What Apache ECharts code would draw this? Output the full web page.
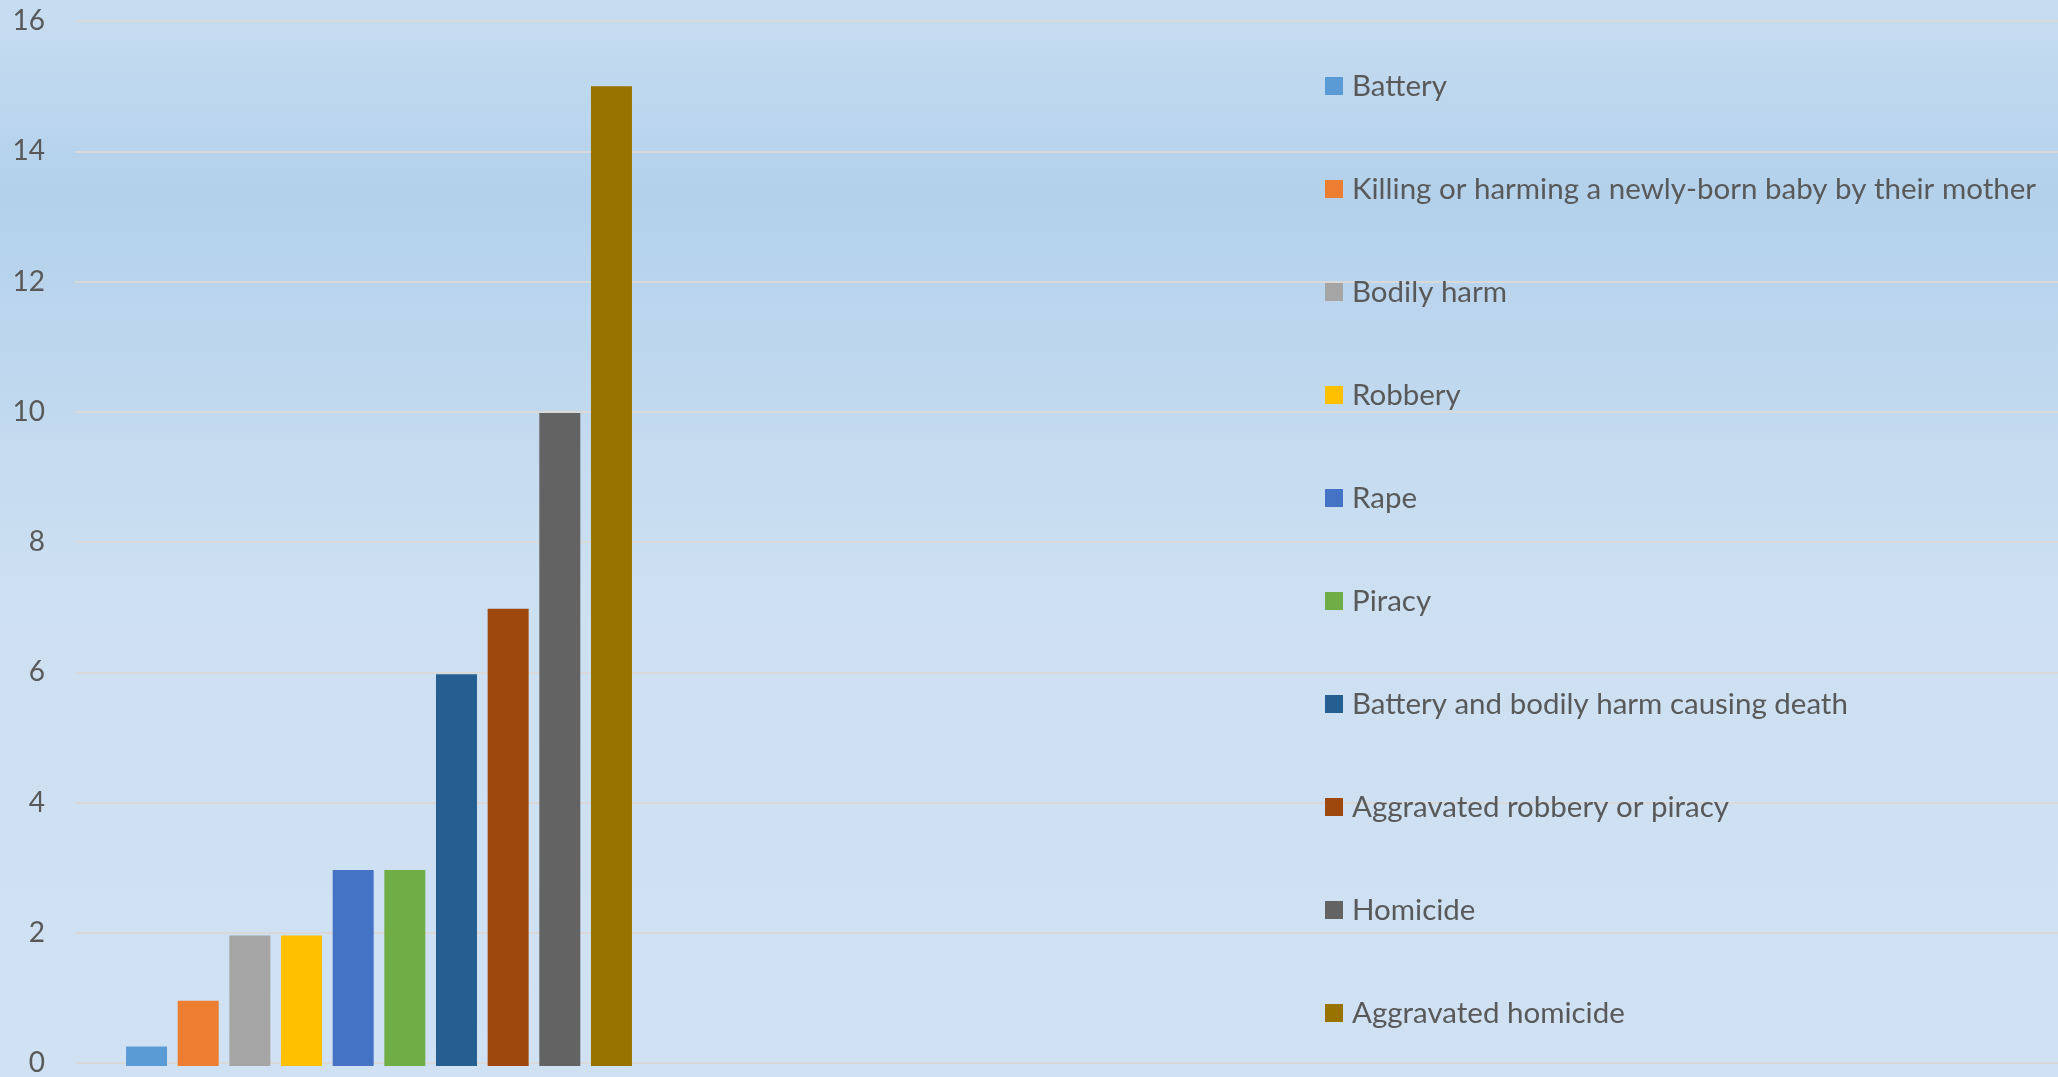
<!DOCTYPE html>
<html>
<head>
<meta charset="utf-8">
<title>Offences</title>
<script src="https://cdn.jsdelivr.net/npm/echarts@6/dist/echarts.min.js"></script>
<style>
  html, body { margin: 0; padding: 0; }
  #chart { width: 2058px; height: 1077px; }
</style>
</head>
<body>
<div id="chart"></div>
<script>
// Offence names (one series each) and their values
const offences = [
  'Battery',
  'Killing or harming a newly-born baby by their mother',
  'Bodily harm',
  'Robbery',
  'Rape',
  'Piracy',
  'Battery and bodily harm causing death',
  'Aggravated robbery or piracy',
  'Homicide',
  'Aggravated homicide'
];
const values = [0.3, 1, 2, 2, 3, 3, 6, 7, 10, 15];
const colors = ['#5b9bd5', '#ed7d31', '#a5a5a5', '#ffc000', '#4472c4',
                '#70ad47', '#255e91', '#9e480e', '#636363', '#997300'];
const yTicks = [0, 2, 4, 6, 8, 10, 12, 14, 16];

const FONT = 'Lato';
const TEXT = '#595959';
const TOP = 21, BOTTOM = 11;

const series = offences.map((name, i) => ({
  name: name,
  type: 'bar',
  xAxisIndex: 1,
  yAxisIndex: 1,
  data: [values[i]],
  barWidth: 41,
  barGap: '26%',
  itemStyle: { color: colors[i] },
  emphasis: { disabled: true }
}));

const chart = echarts.init(document.getElementById('chart'));
chart.setOption({
  animation: false,
  backgroundColor: {
    type: 'linear', x: 0, y: 0, x2: 0, y2: 1,
    colorStops: [
      { offset: 0, color: '#c7ddf1' },
      { offset: 0.18, color: '#b3d1eb' },
      { offset: 0.55, color: '#cde0f2' },
      { offset: 1, color: '#cfe1f2' }
    ]
  },
  grid: [
    // full-width grid carrying the value axis and its gridlines
    { left: 75, right: 0, top: TOP, bottom: BOTTOM },
    // narrow grid holding the bar group
    { left: 75, width: 608, top: TOP, bottom: BOTTOM }
  ],
  xAxis: [
    { type: 'category', gridIndex: 0, data: [''], show: false },
    { type: 'category', gridIndex: 1, data: ['Offences'], show: false }
  ],
  yAxis: [
    {
      type: 'value', gridIndex: 0,
      min: yTicks[0], max: yTicks[yTicks.length - 1], interval: 2,
      axisLine: { show: false },
      axisTick: { show: false },
      axisLabel: { color: TEXT, fontFamily: FONT, fontSize: 28, margin: 30 },
      splitLine: { lineStyle: { color: '#d9d9d9', width: 2 } }
    },
    {
      type: 'value', gridIndex: 1,
      min: yTicks[0], max: yTicks[yTicks.length - 1], interval: 2,
      show: false,
      splitLine: { show: false }
    }
  ],
  legend: {
    orient: 'vertical',
    left: 1325,
    top: 71,
    padding: 0,
    itemWidth: 18,
    itemHeight: 18,
    itemGap: 73,
    icon: 'rect',
    selectedMode: false,
    textStyle: { color: TEXT, fontFamily: FONT, fontSize: 29.5, lineHeight: 30, padding: [0, 0, 0, 4] },
    data: offences
  },
  series: series
});
</script>
</body>
</html>
